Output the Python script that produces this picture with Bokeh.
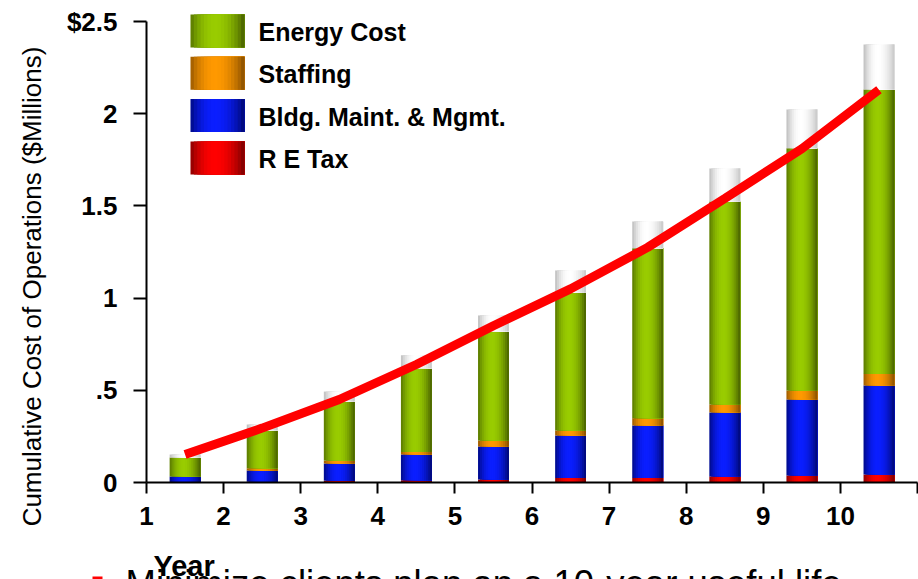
from bokeh.plotting import figure
from bokeh.models import Range1d, FixedTicker, LinearAxis, ColumnDataSource
from bokeh.core.properties import value
from bokeh.embed import file_html
from bokeh.resources import INLINE
import math

# Cumulative cost of operations per year, $ millions (stack segments)
years = [1, 2, 3, 4, 5, 6, 7, 8, 9, 10]
re_tax = [0.002, 0.004, 0.010, 0.012, 0.016, 0.025, 0.025, 0.033, 0.038, 0.043]
bldg_maint = [0.031, 0.061, 0.093, 0.140, 0.179, 0.230, 0.284, 0.347, 0.412, 0.483]
staffing = [0.000, 0.012, 0.016, 0.014, 0.033, 0.027, 0.040, 0.043, 0.049, 0.063]
energy = [0.103, 0.206, 0.321, 0.454, 0.592, 0.748, 0.921, 1.101, 1.314, 1.542]
reserve = [0.016, 0.032, 0.053, 0.070, 0.086, 0.120, 0.145, 0.179, 0.210, 0.244]
trend = [0.152, 0.295, 0.450, 0.640, 0.850, 1.050, 1.275, 1.540, 1.810, 2.130]

y_ticks = [0, 0.5, 1, 1.5, 2, 2.5]
y_tick_labels = ["0", ".5", "1", "1.5", "2", "$2.5"]
x_ticks = [1, 2, 3, 4, 5, 6, 7, 8, 9, 10, 11]
x_tick_labels = ["1", "2", "3", "4", "5", "6", "7", "8", "9", "10", ""]

# (name, values, left edge colour, centre colour, right edge colour)
segments = [
    ("R E Tax", re_tax, "#8a0000", "#ff0000", "#780000"),
    ("Bldg. Maint. & Mgmt.", bldg_maint, "#000a85", "#0a1eff", "#000870"),
    ("Staffing", staffing, "#9a5a00", "#ff9900", "#864e00"),
    ("Energy Cost", energy, "#587700", "#99cc00", "#465e00"),
    ("", reserve, "#bcbcbc", "#ffffff", "#c6c6c6"),
]

FONT = "Liberation Sans"
BAR_W = 0.4
STRIPS = 16

PAGE_W, PAGE_H = 918, 579
# where the axes cross on the page, and pixels per data unit
ORIGIN_X, ORIGIN_Y = 146, 482
PX_PER_X, PX_PER_Y = 77.1, 184.4


def px_x(px):
    return 1 + (px - ORIGIN_X) / PX_PER_X


def px_y(py):
    return (ORIGIN_Y - py) / PX_PER_Y


def rgb(h):
    return tuple(int(h[i:i + 2], 16) for i in (1, 3, 5))


def shade(left, mid, right, t):
    peak = 0.45
    if t <= peak:
        w = 1 - ((peak - t) / peak) ** 2
        a = rgb(left)
    else:
        w = 1 - ((t - peak) / (1 - peak)) ** 2
        a = rgb(right)
    b = rgb(mid)
    return "#%02x%02x%02x" % tuple(round(a[i] + (b[i] - a[i]) * w) for i in range(3))


def gradient_quads(xc, width, bottoms, tops, left, mid, right, out):
    # layered strips: each one runs to the right edge so no seams show
    dw = width / STRIPS
    for i in range(STRIPS):
        t = (i + 0.5) / STRIPS
        col = shade(left, mid, right, t)
        for x, b, tp in zip(xc, bottoms, tops):
            if tp - b <= 0:
                continue
            out["left"].append(x - width / 2 + i * dw)
            out["right"].append(x + width / 2)
            out["bottom"].append(b)
            out["top"].append(tp)
            out["color"].append(col)


# the frame fills the page; axes are pinned at the origin with fixed_location
p = figure(width=PAGE_W, height=PAGE_H,
           x_range=Range1d(px_x(0), px_x(PAGE_W)),
           y_range=Range1d(px_y(PAGE_H), px_y(0)),
           x_axis_type=None, y_axis_type=None,
           output_backend="svg", toolbar_location=None,
           min_border=0, min_border_left=0, min_border_right=0,
           min_border_top=0, min_border_bottom=0)
p.outline_line_color = None
p.background_fill_color = "white"
p.border_fill_color = "white"

x_pos = [y + 0.5 for y in years]

quads = {"left": [], "right": [], "bottom": [], "top": [], "color": []}
base = [0.0] * len(years)
for name, vals, lc, mc, rc in segments:
    tops = [b + v for b, v in zip(base, vals)]
    gradient_quads(x_pos, BAR_W, base, tops, lc, mc, rc, quads)
    base = tops

p.quad(left="left", right="right", bottom="bottom", top="top",
       fill_color="color", line_color=None, source=ColumnDataSource(quads))

# trend line across the bars
p.line(x_pos, trend, line_color="#ff0000", line_width=9, line_cap="butt")

# legend with shaded swatches
legend_quads = {"left": [], "right": [], "bottom": [], "top": [], "color": []}
legend_order = [segments[3], segments[2], segments[1], segments[0]]
lx, ly, ltext = [], [], []
for i, (name, vals, lc, mc, rc) in enumerate(legend_order):
    top_px = 14 + i * 42.3
    bot_px = top_px + 33
    sw_left, sw_right = px_x(190), px_x(244)
    gradient_quads([(sw_left + sw_right) / 2], sw_right - sw_left,
                   [px_y(bot_px)], [px_y(top_px)], lc, mc, rc, legend_quads)
    lx.append(px_x(258))
    ly.append(px_y((top_px + bot_px) / 2 + 1))
    ltext.append(name)
p.quad(left="left", right="right", bottom="bottom", top="top",
       fill_color="color", line_color=None, source=ColumnDataSource(legend_quads))
p.text(x=lx, y=ly, text=ltext, text_font=value(FONT), text_font_size="25px",
       text_font_style="bold", text_baseline="middle", text_align="left",
       text_color="black")

# axes
yax = LinearAxis(fixed_location=1, bounds=(0, 2.5),
                 ticker=FixedTicker(ticks=y_ticks),
                 major_label_overrides={t: s for t, s in zip(y_ticks, y_tick_labels)})
xax = LinearAxis(fixed_location=0, bounds=(1, 11),
                 ticker=FixedTicker(ticks=x_ticks),
                 major_label_overrides={t: s for t, s in zip(x_ticks, x_tick_labels)})
for ax in (xax, yax):
    ax.axis_line_width = 2
    ax.axis_line_color = "black"
    ax.major_tick_line_width = 2
    ax.major_tick_line_color = "black"
    ax.major_tick_in = 0
    ax.minor_tick_in = 0
    ax.minor_tick_out = 0
    ax.major_label_text_font = FONT
    ax.major_label_text_font_size = "26px"
    ax.major_label_text_font_style = "bold"
    ax.major_label_text_color = "black"
yax.major_tick_out = 13
yax.major_label_standoff = 16
xax.major_tick_out = 11
xax.major_label_standoff = 13
p.add_layout(yax, "left")
p.add_layout(xax, "below")

# value-axis title
p.text(x=[px_x(31)], y=[px_y(286)], text=["Cumulative Cost of Operations ($Millions)"],
       angle=math.pi / 2, text_font=value(FONT), text_font_size="26px",
       text_align="center", text_baseline="middle", text_color="black")

# caption line at the foot of the page, with its red bullet, under the "Year" title
p.quad(left=[px_x(92)], right=[px_x(102)], bottom=[px_y(584)], top=[px_y(576)],
       fill_color="#ff0000", line_color=None)
p.text(x=[px_x(125)], y=[px_y(583)], text=["Minimize clients plan on a 10-year useful life"],
       text_font=value(FONT), text_font_size="36.5px", text_color="black",
       text_align="left", text_baseline="alphabetic")
p.text(x=[px_x(153)], y=[px_y(565)], text=["Year"], text_font=value(FONT),
       text_font_size="29px", text_font_style="bold", text_color="black",
       text_align="left", text_baseline="alphabetic")

open("out.html", "w").write(file_html(p, INLINE))
